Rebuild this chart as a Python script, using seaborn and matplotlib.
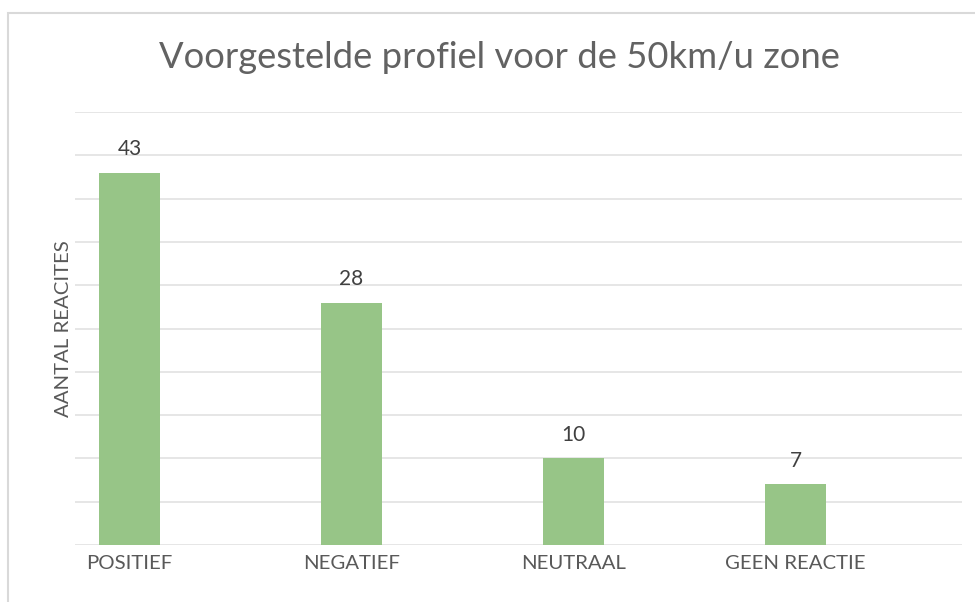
import matplotlib
matplotlib.use("Agg")
import matplotlib.pyplot as plt
import seaborn as sns
import pandas as pd
from matplotlib.patches import Rectangle

categories = ["POSITIEF", "NEGATIEF", "NEUTRAAL", "GEEN REACTIE"]
values = [43, 28, 10, 7]
title = "Voorgestelde profiel voor de 50km/u zone"
ylabel = "AANTAL REACITES"

sns.set_theme(style="white")
plt.rcParams['font.family'] = ['Lato', 'DejaVu Sans']

df = pd.DataFrame({"cat": categories, "val": values})

fig = plt.figure(figsize=(9.75, 6.02), dpi=100)
ax = fig.add_axes([75/975, 1-545/602, (962-75)/975, (545-112)/602])

sns.barplot(data=df, x="cat", y="val", ax=ax, color="#97C587", width=0.275,
            saturation=1, edgecolor="none")

ax.set_ylim(0, 50)
ax.set_xlim(-0.2455, 3.75)
ax.set_yticks(range(0, 51, 5))
ax.set_yticklabels([])
ax.yaxis.grid(True, color="#E4E4E4", linewidth=1.3)
ax.set_axisbelow(True)
for s in ax.spines.values():
    s.set_visible(False)
ax.tick_params(axis="both", length=0)
ax.tick_params(axis="x", labelsize=14.7, labelcolor="#595959", pad=7)
ax.set_xlabel("")
ax.set_ylabel(ylabel, fontsize=14.7, color="#595959", labelpad=-1)

for i, v in enumerate(values):
    ax.annotate(str(v), (i, v), xytext=(0, 9.5), textcoords="offset points",
                ha="center", va="bottom", fontsize=15, color="#404040")

fig.text(0.512, 1-58/602, title, ha="center", va="center", fontsize=26.2,
         color="#626262", fontweight="normal")

fig.patches.append(Rectangle((8/975, -0.1), 1.2, 1-13/602+0.1,
                             transform=fig.transFigure, fill=False,
                             edgecolor="#D9D9D9", linewidth=1.5))

fig.savefig("out.png", dpi=100)
